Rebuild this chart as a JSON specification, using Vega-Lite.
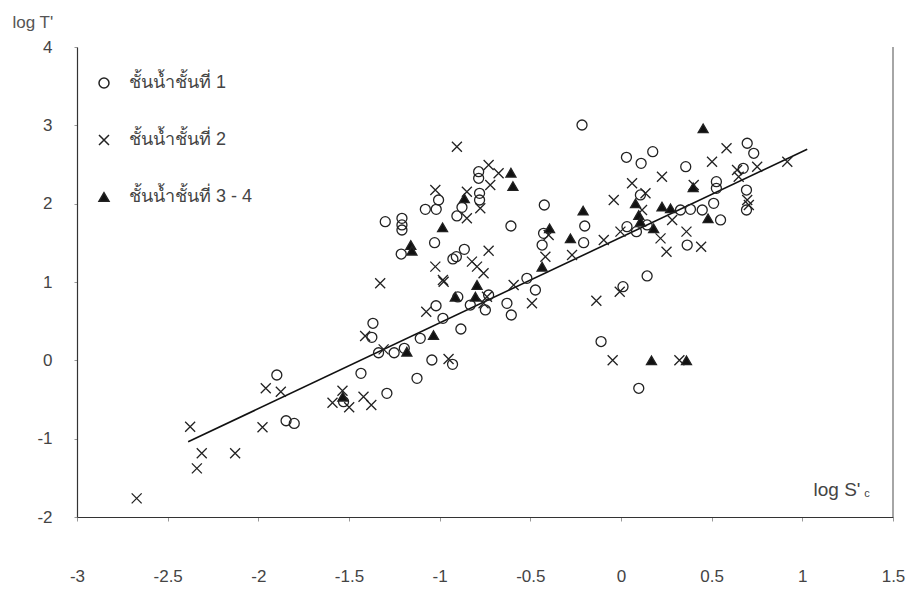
{
  "$schema": "https://vega.github.io/schema/vega-lite/v6.json",
  "width": 816,
  "height": 470,
  "autosize": {"type": "none"},
  "padding": {"left": 77, "top": 47, "right": 17, "bottom": 72},
  "background": "white",
  "config": {"view": {"stroke": null}, "font": "Liberation Sans"},
  "layer": [
    {
      "data": {"values": [{"x": 1.5}]},
      "mark": {"type": "rule", "color": "#888", "strokeWidth": 1.5},
      "encoding": {"x": {"field": "x", "type": "quantitative", "scale": {"domain": [-3, 1.5], "nice": false, "zero": false}}}
    },
    {
      "data": {"values": [{"x": -2.387, "y": -1.04}, {"x": 1.027, "y": 2.694}]},
      "mark": {"type": "line", "color": "#111", "strokeWidth": 1.6},
      "encoding": {
        "x": {"field": "x", "type": "quantitative", "scale": {"domain": [-3, 1.5], "nice": false, "zero": false}},
        "y": {"field": "y", "type": "quantitative", "scale": {"domain": [-2, 4], "nice": false, "zero": false}}
      }
    },
    {
      "data": {"values": [
        {"s": "ชั้นน้ำชั้นที่ 1", "x": -1.847, "y": -0.771},
        {"s": "ชั้นน้ำชั้นที่ 1", "x": -1.802, "y": -0.805},
        {"s": "ชั้นน้ำชั้นที่ 1", "x": -1.898, "y": -0.187},
        {"s": "ชั้นน้ำชั้นที่ 1", "x": -1.530, "y": -0.528},
        {"s": "ชั้นน้ำชั้นที่ 1", "x": -1.434, "y": -0.166},
        {"s": "ชั้นน้ำชั้นที่ 1", "x": -1.291, "y": -0.421},
        {"s": "ชั้นน้ำชั้นที่ 1", "x": -1.374, "y": 0.294},
        {"s": "ชั้นน้ำชั้นที่ 1", "x": -1.337, "y": 0.097},
        {"s": "ชั้นน้ำชั้นที่ 1", "x": -1.368, "y": 0.473},
        {"s": "ชั้นน้ำชั้นที่ 1", "x": -1.251, "y": 0.097},
        {"s": "ชั้นน้ำชั้นที่ 1", "x": -1.195, "y": 0.153},
        {"s": "ชั้นน้ำชั้นที่ 1", "x": -1.107, "y": 0.281},
        {"s": "ชั้นน้ำชั้นที่ 1", "x": -0.982, "y": 0.536},
        {"s": "ชั้นน้ำชั้นที่ 1", "x": -1.020, "y": 0.697},
        {"s": "ชั้นน้ำชั้นที่ 1", "x": -0.883, "y": 0.400},
        {"s": "ชั้นน้ำชั้นที่ 1", "x": -1.043, "y": 0.004},
        {"s": "ชั้นน้ำชั้นที่ 1", "x": -0.929, "y": -0.051},
        {"s": "ชั้นน้ำชั้นที่ 1", "x": -1.125, "y": -0.230},
        {"s": "ชั้นน้ำชั้นที่ 1", "x": -0.900, "y": 0.810},
        {"s": "ชั้นน้ำชั้นที่ 1", "x": -0.831, "y": 0.706},
        {"s": "ชั้นน้ำชั้นที่ 1", "x": -0.748, "y": 0.643},
        {"s": "ชั้นน้ำชั้นที่ 1", "x": -0.730, "y": 0.834},
        {"s": "ชั้นน้ำชั้นที่ 1", "x": -0.629, "y": 0.728},
        {"s": "ชั้นน้ำชั้นที่ 1", "x": -0.605, "y": 0.579},
        {"s": "ชั้นน้ำชั้นที่ 1", "x": -0.472, "y": 0.898},
        {"s": "ชั้นน้ำชั้นที่ 1", "x": -0.110, "y": 0.240},
        {"s": "ชั้นน้ำชั้นที่ 1", "x": -0.785, "y": 2.408},
        {"s": "ชั้นน้ำชั้นที่ 1", "x": -0.785, "y": 2.324},
        {"s": "ชั้นน้ำชั้นที่ 1", "x": -0.780, "y": 2.132},
        {"s": "ชั้นน้ำชั้นที่ 1", "x": -0.780, "y": 2.047},
        {"s": "ชั้นน้ำชั้นที่ 1", "x": -1.006, "y": 2.047},
        {"s": "ชั้นน้ำชั้นที่ 1", "x": -1.079, "y": 1.928},
        {"s": "ชั้นน้ำชั้นที่ 1", "x": -1.019, "y": 1.928},
        {"s": "ชั้นน้ำชั้นที่ 1", "x": -0.877, "y": 1.953},
        {"s": "ชั้นน้ำชั้นที่ 1", "x": -0.905, "y": 1.843},
        {"s": "ชั้นน้ำชั้นที่ 1", "x": -1.300, "y": 1.770},
        {"s": "ชั้นน้ำชั้นที่ 1", "x": -1.208, "y": 1.813},
        {"s": "ชั้นน้ำชั้นที่ 1", "x": -1.208, "y": 1.728},
        {"s": "ชั้นน้ำชั้นที่ 1", "x": -1.208, "y": 1.664},
        {"s": "ชั้นน้ำชั้นที่ 1", "x": -1.028, "y": 1.502},
        {"s": "ชั้นน้ำชั้นที่ 1", "x": -1.212, "y": 1.357},
        {"s": "ชั้นน้ำชั้นที่ 1", "x": -0.927, "y": 1.294},
        {"s": "ชั้นน้ำชั้นที่ 1", "x": -0.908, "y": 1.323},
        {"s": "ชั้นน้ำชั้นที่ 1", "x": -0.864, "y": 1.417},
        {"s": "ชั้นน้ำชั้นที่ 1", "x": -0.423, "y": 1.983},
        {"s": "ชั้นน้ำชั้นที่ 1", "x": -0.607, "y": 1.715},
        {"s": "ชั้นน้ำชั้นที่ 1", "x": -0.427, "y": 1.621},
        {"s": "ชั้นน้ำชั้นที่ 1", "x": -0.435, "y": 1.472},
        {"s": "ชั้นน้ำชั้นที่ 1", "x": -0.206, "y": 1.502},
        {"s": "ชั้นน้ำชั้นที่ 1", "x": -0.200, "y": 1.715},
        {"s": "ชั้นน้ำชั้นที่ 1", "x": -0.519, "y": 1.047},
        {"s": "ชั้นน้ำชั้นที่ 1", "x": -0.215, "y": 3.004},
        {"s": "ชั้นน้ำชั้นที่ 1", "x": 0.696, "y": 2.771},
        {"s": "ชั้นน้ำชั้นที่ 1", "x": 0.732, "y": 2.643},
        {"s": "ชั้นน้ำชั้นที่ 1", "x": 0.030, "y": 2.592},
        {"s": "ชั้นน้ำชั้นที่ 1", "x": 0.111, "y": 2.515},
        {"s": "ชั้นน้ำชั้นที่ 1", "x": 0.175, "y": 2.664},
        {"s": "ชั้นน้ำชั้นที่ 1", "x": 0.357, "y": 2.472},
        {"s": "ชั้นน้ำชั้นที่ 1", "x": 0.674, "y": 2.451},
        {"s": "ชั้นน้ำชั้นที่ 1", "x": 0.692, "y": 2.174},
        {"s": "ชั้นน้ำชั้นที่ 1", "x": 0.692, "y": 1.919},
        {"s": "ชั้นน้ำชั้นที่ 1", "x": 0.526, "y": 2.281},
        {"s": "ชั้นน้ำชั้นที่ 1", "x": 0.526, "y": 2.196},
        {"s": "ชั้นน้ำชั้นที่ 1", "x": 0.511, "y": 2.004},
        {"s": "ชั้นน้ำชั้นที่ 1", "x": 0.549, "y": 1.792},
        {"s": "ชั้นน้ำชั้นที่ 1", "x": 0.448, "y": 1.919},
        {"s": "ชั้นน้ำชั้นที่ 1", "x": 0.383, "y": 1.928},
        {"s": "ชั้นน้ำชั้นที่ 1", "x": 0.328, "y": 1.919},
        {"s": "ชั้นน้ำชั้นที่ 1", "x": 0.107, "y": 2.111},
        {"s": "ชั้นน้ำชั้นที่ 1", "x": 0.144, "y": 1.728},
        {"s": "ชั้นน้ำชั้นที่ 1", "x": 0.033, "y": 1.706},
        {"s": "ชั้นน้ำชั้นที่ 1", "x": 0.085, "y": 1.643},
        {"s": "ชั้นน้ำชั้นที่ 1", "x": 0.365, "y": 1.472},
        {"s": "ชั้นน้ำชั้นที่ 1", "x": 0.144, "y": 1.077},
        {"s": "ชั้นน้ำชั้นที่ 1", "x": 0.011, "y": 0.940},
        {"s": "ชั้นน้ำชั้นที่ 1", "x": 0.098, "y": -0.357},
        {"s": "ชั้นน้ำชั้นที่ 2", "x": -2.671, "y": -1.762},
        {"s": "ชั้นน้ำชั้นที่ 2", "x": -2.376, "y": -0.847},
        {"s": "ชั้นน้ำชั้นที่ 2", "x": -2.312, "y": -1.187},
        {"s": "ชั้นน้ำชั้นที่ 2", "x": -2.339, "y": -1.379},
        {"s": "ชั้นน้ำชั้นที่ 2", "x": -2.128, "y": -1.187},
        {"s": "ชั้นน้ำชั้นที่ 2", "x": -1.977, "y": -0.855},
        {"s": "ชั้นน้ำชั้นที่ 2", "x": -1.959, "y": -0.357},
        {"s": "ชั้นน้ำชั้นที่ 2", "x": -1.876, "y": -0.400},
        {"s": "ชั้นน้ำชั้นที่ 2", "x": -1.591, "y": -0.541},
        {"s": "ชั้นน้ำชั้นที่ 2", "x": -1.536, "y": -0.388},
        {"s": "ชั้นน้ำชั้นที่ 2", "x": -1.499, "y": -0.600},
        {"s": "ชั้นน้ำชั้นที่ 2", "x": -1.420, "y": -0.464},
        {"s": "ชั้นน้ำชั้นที่ 2", "x": -1.377, "y": -0.570},
        {"s": "ชั้นน้ำชั้นที่ 2", "x": -1.411, "y": 0.311},
        {"s": "ชั้นน้ำชั้นที่ 2", "x": -1.309, "y": 0.140},
        {"s": "ชั้นน้ำชั้นที่ 2", "x": -1.328, "y": 0.983},
        {"s": "ชั้นน้ำชั้นที่ 2", "x": -0.978, "y": 1.004},
        {"s": "ชั้นน้ำชั้นที่ 2", "x": -1.074, "y": 0.621},
        {"s": "ชั้นน้ำชั้นที่ 2", "x": -0.951, "y": 0.017},
        {"s": "ชั้นน้ำชั้นที่ 2", "x": -0.758, "y": 0.728},
        {"s": "ชั้นน้ำชั้นที่ 2", "x": -0.739, "y": 0.812},
        {"s": "ชั้นน้ำชั้นที่ 2", "x": -0.592, "y": 0.962},
        {"s": "ชั้นน้ำชั้นที่ 2", "x": -0.491, "y": 0.728},
        {"s": "ชั้นน้ำชั้นที่ 2", "x": -0.136, "y": 0.761},
        {"s": "ชั้นน้ำชั้นที่ 2", "x": -0.905, "y": 2.727},
        {"s": "ชั้นน้ำชั้นที่ 2", "x": -0.730, "y": 2.494},
        {"s": "ชั้นน้ำชั้นที่ 2", "x": -0.675, "y": 2.388},
        {"s": "ชั้นน้ำชั้นที่ 2", "x": -0.721, "y": 2.238},
        {"s": "ชั้นน้ำชั้นที่ 2", "x": -0.850, "y": 2.153},
        {"s": "ชั้นน้ำชั้นที่ 2", "x": -1.024, "y": 2.174},
        {"s": "ชั้นน้ำชั้นที่ 2", "x": -0.776, "y": 1.941},
        {"s": "ชั้นน้ำชั้นที่ 2", "x": -0.850, "y": 1.813},
        {"s": "ชั้นน้ำชั้นที่ 2", "x": -0.730, "y": 1.400},
        {"s": "ชั้นน้ำชั้นที่ 2", "x": -0.822, "y": 1.260},
        {"s": "ชั้นน้ำชั้นที่ 2", "x": -0.794, "y": 1.196},
        {"s": "ชั้นน้ำชั้นที่ 2", "x": -0.758, "y": 1.111},
        {"s": "ชั้นน้ำชั้นที่ 2", "x": -1.024, "y": 1.196},
        {"s": "ชั้นน้ำชั้นที่ 2", "x": -0.982, "y": 1.025},
        {"s": "ชั้นน้ำชั้นที่ 2", "x": -0.399, "y": 1.600},
        {"s": "ชั้นน้ำชั้นที่ 2", "x": -0.417, "y": 1.323},
        {"s": "ชั้นน้ำชั้นที่ 2", "x": -0.270, "y": 1.345},
        {"s": "ชั้นน้ำชั้นที่ 2", "x": 0.582, "y": 2.707},
        {"s": "ชั้นน้ำชั้นที่ 2", "x": 0.502, "y": 2.536},
        {"s": "ชั้นน้ำชั้นที่ 2", "x": 0.226, "y": 2.344},
        {"s": "ชั้นน้ำชั้นที่ 2", "x": 0.061, "y": 2.260},
        {"s": "ชั้นน้ำชั้นที่ 2", "x": 0.751, "y": 2.472},
        {"s": "ชั้นน้ำชั้นที่ 2", "x": 0.917, "y": 2.536},
        {"s": "ชั้นน้ำชั้นที่ 2", "x": 0.640, "y": 2.430},
        {"s": "ชั้นน้ำชั้นที่ 2", "x": 0.649, "y": 2.344},
        {"s": "ชั้นน้ำชั้นที่ 2", "x": 0.696, "y": 2.047},
        {"s": "ชั้นน้ำชั้นที่ 2", "x": 0.705, "y": 1.983},
        {"s": "ชั้นน้ำชั้นที่ 2", "x": 0.401, "y": 2.238},
        {"s": "ชั้นน้ำชั้นที่ 2", "x": 0.282, "y": 1.792},
        {"s": "ชั้นน้ำชั้นที่ 2", "x": 0.135, "y": 2.132},
        {"s": "ชั้นน้ำชั้นที่ 2", "x": -0.040, "y": 2.047},
        {"s": "ชั้นน้ำชั้นที่ 2", "x": 0.116, "y": 1.919},
        {"s": "ชั้นน้ำชั้นที่ 2", "x": -0.003, "y": 1.643},
        {"s": "ชั้นน้ำชั้นที่ 2", "x": -0.095, "y": 1.536},
        {"s": "ชั้นน้ำชั้นที่ 2", "x": 0.218, "y": 1.557},
        {"s": "ชั้นน้ำชั้นที่ 2", "x": 0.251, "y": 1.387},
        {"s": "ชั้นน้ำชั้นที่ 2", "x": 0.361, "y": 1.643},
        {"s": "ชั้นน้ำชั้นที่ 2", "x": 0.442, "y": 1.451},
        {"s": "ชั้นน้ำชั้นที่ 2", "x": -0.007, "y": 0.876},
        {"s": "ชั้นน้ำชั้นที่ 2", "x": -0.046, "y": 0.0},
        {"s": "ชั้นน้ำชั้นที่ 2", "x": 0.322, "y": 0.0},
        {"s": "ชั้นน้ำชั้นที่ 3 - 4", "x": -1.534, "y": -0.464},
        {"s": "ชั้นน้ำชั้นที่ 3 - 4", "x": -1.181, "y": 0.110},
        {"s": "ชั้นน้ำชั้นที่ 3 - 4", "x": -1.034, "y": 0.323},
        {"s": "ชั้นน้ำชั้นที่ 3 - 4", "x": -0.914, "y": 0.812},
        {"s": "ชั้นน้ำชั้นที่ 3 - 4", "x": -0.794, "y": 0.962},
        {"s": "ชั้นน้ำชั้นที่ 3 - 4", "x": -0.803, "y": 0.812},
        {"s": "ชั้นน้ำชั้นที่ 3 - 4", "x": -0.607, "y": 2.395},
        {"s": "ชั้นน้ำชั้นที่ 3 - 4", "x": -0.596, "y": 2.225},
        {"s": "ชั้นน้ำชั้นที่ 3 - 4", "x": -0.864, "y": 2.068},
        {"s": "ชั้นน้ำชั้นที่ 3 - 4", "x": -0.984, "y": 1.698},
        {"s": "ชั้นน้ำชั้นที่ 3 - 4", "x": -1.159, "y": 1.472},
        {"s": "ชั้นน้ำชั้นที่ 3 - 4", "x": -1.153, "y": 1.400},
        {"s": "ชั้นน้ำชั้นที่ 3 - 4", "x": -0.394, "y": 1.685},
        {"s": "ชั้นน้ำชั้นที่ 3 - 4", "x": -0.435, "y": 1.196},
        {"s": "ชั้นน้ำชั้นที่ 3 - 4", "x": -0.279, "y": 1.557},
        {"s": "ชั้นน้ำชั้นที่ 3 - 4", "x": -0.209, "y": 1.911},
        {"s": "ชั้นน้ำชั้นที่ 3 - 4", "x": 0.453, "y": 2.962},
        {"s": "ชั้นน้ำชั้นที่ 3 - 4", "x": 0.398, "y": 2.209},
        {"s": "ชั้นน้ำชั้นที่ 3 - 4", "x": 0.480, "y": 1.813},
        {"s": "ชั้นน้ำชั้นที่ 3 - 4", "x": 0.273, "y": 1.941},
        {"s": "ชั้นน้ำชั้นที่ 3 - 4", "x": 0.226, "y": 1.962},
        {"s": "ชั้นน้ำชั้นที่ 3 - 4", "x": 0.080, "y": 2.004},
        {"s": "ชั้นน้ำชั้นที่ 3 - 4", "x": 0.098, "y": 1.855},
        {"s": "ชั้นน้ำชั้นที่ 3 - 4", "x": 0.107, "y": 1.770},
        {"s": "ชั้นน้ำชั้นที่ 3 - 4", "x": 0.180, "y": 1.685},
        {"s": "ชั้นน้ำชั้นที่ 3 - 4", "x": 0.168, "y": 0.0},
        {"s": "ชั้นน้ำชั้นที่ 3 - 4", "x": 0.361, "y": 0.0}
      ]},
      "mark": {"type": "point", "size": 100, "strokeWidth": 1.3, "opacity": 1, "stroke": "#222"},
      "encoding": {
        "x": {
          "field": "x", "type": "quantitative",
          "scale": {"domain": [-3, 1.5], "nice": false, "zero": false},
          "axis": {
            "values": [-3, -2.5, -2, -1.5, -1, -0.5, 0, 0.5, 1, 1.5],
            "labelExpr": "'' + datum.value",
            "grid": false, "labelFlush": false,
            "domainColor": "#333", "domainWidth": 1.2,
            "tickColor": "#999", "tickSize": 4,
            "labelPadding": 47, "labelFontSize": 17, "labelColor": "#444",
            "title": "log S'", "titleFontSize": 19, "titleFontWeight": "normal", "titleColor": "#444",
            "titleX": 736, "titleY": -22, "titleAlign": "left", "titleBaseline": "alphabetic", "titleAnchor": null
          }
        },
        "y": {
          "field": "y", "type": "quantitative",
          "scale": {"domain": [-2, 4], "nice": false, "zero": false},
          "axis": {
            "values": [-2, -1, 0, 1, 2, 3, 4],
            "labelExpr": "'' + datum.value",
            "grid": false,
            "domainColor": "#333", "domainWidth": 1.2,
            "tickColor": "#999", "tickSize": 3,
            "labelPadding": 22, "labelFontSize": 17, "labelColor": "#444",
            "title": "log T'", "titleAngle": 0, "titleX": -65, "titleY": -25,
            "titleAlign": "left", "titleBaseline": "middle",
            "titleFontSize": 17, "titleFontWeight": "normal", "titleColor": "#555", "titleAnchor": null
          }
        },
        "shape": {
          "field": "s", "type": "nominal",
          "scale": {"domain": ["ชั้นน้ำชั้นที่ 1", "ชั้นน้ำชั้นที่ 2", "ชั้นน้ำชั้นที่ 3 - 4"], "range": ["circle", "M-1,-1L1,1M-1,1L1,-1", "triangle-up"]},
          "legend": {"orient": "none", "legendX": 18, "legendY": 27, "title": null, "padding": 0, "labelFontSize": 18, "labelColor": "#444", "rowPadding": 39, "symbolSize": 100, "labelOffset": 16,
            "encode": {"symbols": {"update": {"stroke": {"value": "#222"}, "strokeWidth": {"value": 1.3}}}}}
        },
        "fill": {
          "field": "s", "type": "nominal",
          "scale": {"domain": ["ชั้นน้ำชั้นที่ 1", "ชั้นน้ำชั้นที่ 2", "ชั้นน้ำชั้นที่ 3 - 4"], "range": ["transparent", "transparent", "#111"]},
          "legend": {"orient": "none", "legendX": 18, "legendY": 27, "title": null, "padding": 0, "labelFontSize": 18, "labelColor": "#444", "rowPadding": 39, "symbolSize": 100, "labelOffset": 16,
            "encode": {"symbols": {"update": {"stroke": {"value": "#222"}, "strokeWidth": {"value": 1.3}}}}}
        }
      }
    },
    {
      "data": {"values": [{"x": 1.356, "y": -1.70, "t": "c"}]},
      "mark": {"type": "text", "fontSize": 11, "color": "#444", "align": "center", "baseline": "middle"},
      "encoding": {
        "x": {"field": "x", "type": "quantitative", "scale": {"domain": [-3, 1.5], "nice": false, "zero": false}},
        "y": {"field": "y", "type": "quantitative", "scale": {"domain": [-2, 4], "nice": false, "zero": false}},
        "text": {"field": "t"}
      }
    }
  ]
}
